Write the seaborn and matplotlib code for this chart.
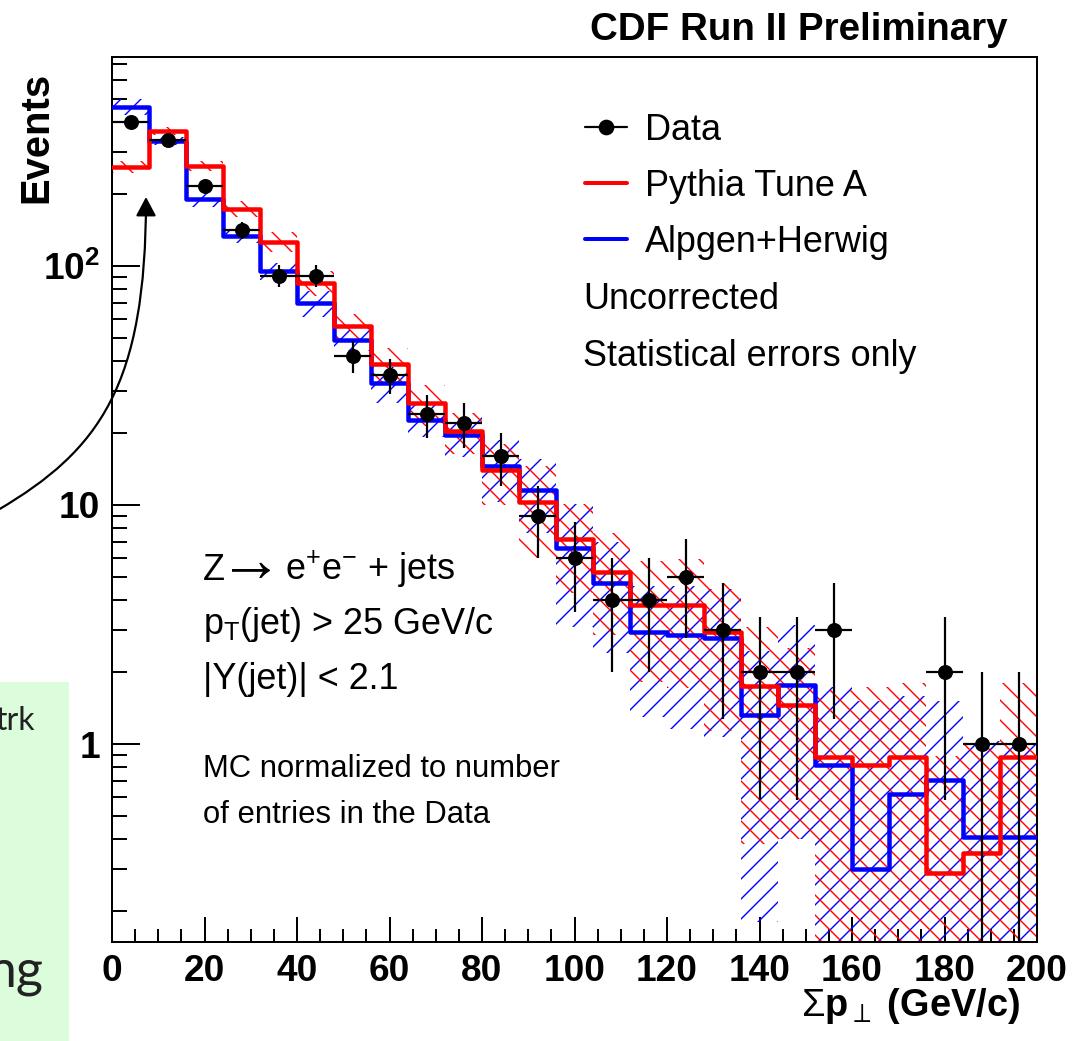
import numpy as np
import pandas as pd
import matplotlib
matplotlib.use("Agg")
import matplotlib.pyplot as plt
import seaborn as sns
from matplotlib.path import Path
from matplotlib.patches import FancyArrowPatch, Rectangle, ArrowStyle
from matplotlib.lines import Line2D
from matplotlib.ticker import FixedLocator, FixedFormatter, MultipleLocator, LogLocator, NullFormatter

# ---------------- data ----------------
bin_edges = [0, 8, 16, 24, 32, 40, 48, 56, 64, 72, 80, 88, 96, 104, 112, 120,
             128, 136, 144, 152, 160, 168, 176, 184, 192, 200]
data_counts = [400, 336, 215, 141, 91, 91, 42, 35, 24, 22, 16, 9, 6, 4, 4, 5,
               3, 2, 2, 3, 0, 0, 2, 1, 1]
pythia = [260, 367, 262, 173, 126, 85, 56, 38.9, 26.6, 20.3, 14.0, 10.3, 7.2,
          5.26, 3.82, 3.82, 2.93, 1.74, 1.46, 0.88, 0.82, 0.88, 0.29, 0.35, 0.88]
pythia_err = [15, 15, 12, 13, 12, 10, 7, 6.5, 5.2, 4.0, 4.0, 4.3, 2.9,
              2.4, 2.0, 2.1, 1.8, 1.36, 1.06, 0.80, 0.91, 0.92, 0.60, 0.65, 0.92]
alpgen = [464, 333, 190, 133.5, 95.3, 69.8, 49.0, 32.3, 22.7, 19.6, 14.5, 11.6,
          6.6, 4.70, 2.95, 2.86, 2.77, 1.32, 1.77, 0.82, 0.30, 0.615, 0.71, 0.41, 0.41]
alpgen_err = [36, 12, 13, 9, 8, 8.4, 5, 5.6, 3.5, 3.7, 4.2, 4.0, 3.5,
              2.3, 1.65, 1.7, 1.7, 1.14, 1.37, 0.91, 1.22, 0.97, 0.81, 0.62, 0.62]
y_major = [1, 10, 100]
y_major_labels = ["1", "10", "10$^{\\mathbf{2}}$"]
x_major = [0, 20, 40, 60, 80, 100, 120, 140, 160, 180, 200]
x_major_labels = ["0", "20", "40", "60", "80", "100", "120", "140", "160", "180", "200"]

# ---------------- setup ----------------
W, H, DPI = 1089, 1041, 120
def pt(px):
    return px * 72.0 / DPI
def fx(x):
    return x / W
def fy(y):
    return 1 - y / H

sns.set_style("ticks")
plt.rcParams["font.family"] = ["Liberation Sans", "DejaVu Sans"]
plt.rcParams["mathtext.fontset"] = "custom"
plt.rcParams["mathtext.rm"] = "Liberation Sans"
plt.rcParams["mathtext.it"] = "Liberation Sans:italic"
plt.rcParams["mathtext.bf"] = "Liberation Sans:bold"
plt.rcParams["hatch.linewidth"] = pt(1.4)
plt.rcParams["text.color"] = "black"
plt.rcParams["axes.labelcolor"] = "black"
plt.rcParams["xtick.color"] = "black"
plt.rcParams["ytick.color"] = "black"

edges = np.array(bin_edges, dtype=float)
centers = (edges[:-1] + edges[1:]) / 2
widths = np.diff(edges)
floor = 1e-3

fig = plt.figure(figsize=(W / DPI, H / DPI), dpi=DPI)
ax = fig.add_axes([fx(112), fy(942), fx(1037) - fx(112), fy(57) - fy(942)])

df = pd.DataFrame({"center": centers, "pythia": pythia, "alpgen": alpgen,
                   "pythia_err": pythia_err, "alpgen_err": alpgen_err,
                   "data": data_counts})

# hatched MC statistical bands
for col, ecol, color, hatch in [("alpgen", "alpgen_err", "blue", "//"),
                                ("pythia", "pythia_err", "red", "\\\\")]:
    lo = np.clip(df[col] - df[ecol], floor, None)
    hi = df[col] + df[ecol]
    ax.bar(df["center"], hi - lo, bottom=lo, width=widths, fill=False,
           hatch=hatch, edgecolor=color, linewidth=0, zorder=1)

# MC histograms
sns.histplot(data=df, x="center", weights="alpgen", bins=bin_edges, element="step",
             fill=False, color="blue", linewidth=pt(4.5), ax=ax, zorder=3)
sns.histplot(data=df, x="center", weights="pythia", bins=bin_edges, element="step",
             fill=False, color="red", linewidth=pt(4.5), ax=ax, zorder=4)

# data with statistical errors
dd = df[df["data"] > 0]
yerr_lo = np.minimum(np.sqrt(dd["data"]), dd["data"] - floor)
yerr_hi = np.sqrt(dd["data"])
ax.errorbar(dd["center"], dd["data"], xerr=widths[0] / 2, yerr=[yerr_lo, yerr_hi],
            fmt="none", ecolor="black", elinewidth=pt(2.2), capsize=0, zorder=5)
sns.scatterplot(data=dd, x="center", y="data", color="black", s=pt(15) ** 2,
                linewidth=0, ax=ax, zorder=6, legend=False)

ax.set_yscale("log")
ax.set_xlim(0, 200)
ax.set_ylim(0.1485, 748)
ax.set_xlabel("")
ax.set_ylabel("")

# ticks
ax.yaxis.set_major_locator(FixedLocator(y_major))
ax.yaxis.set_major_formatter(FixedFormatter(y_major_labels))
ax.yaxis.set_minor_locator(LogLocator(base=10, subs=np.arange(2, 10), numticks=20))
ax.yaxis.set_minor_formatter(NullFormatter())
ax.xaxis.set_major_locator(FixedLocator(x_major))
ax.xaxis.set_major_formatter(FixedFormatter(x_major_labels))
ax.xaxis.set_minor_locator(MultipleLocator(5))
ax.tick_params(axis="both", which="both", direction="in", top=False, right=False,
               width=pt(2), colors="black")
ax.tick_params(axis="x", which="major", length=pt(25), pad=pt(12))
ax.tick_params(axis="x", which="minor", length=pt(13))
ax.tick_params(axis="y", which="major", length=pt(28), pad=pt(12))
ax.tick_params(axis="y", which="minor", length=pt(15))
for lab in ax.get_xticklabels() + ax.get_yticklabels():
    lab.set_fontsize(pt(37))
    lab.set_fontweight("bold")
    lab.set_color("black")
for s in ax.spines.values():
    s.set_linewidth(pt(2))
    s.set_color("black")
    s.set_visible(True)

# legend
handles = [Line2D([], [], color="black", lw=pt(2.2), marker="o", markersize=pt(14)),
           Line2D([], [], color="red", lw=pt(4)),
           Line2D([], [], color="blue", lw=pt(4))]
leg = ax.legend(handles, ["Data", "Pythia Tune A", "Alpgen+Herwig"], loc="upper left",
                bbox_to_anchor=(fx(585), fy(113)), bbox_transform=fig.transFigure,
                frameon=False, fontsize=pt(36), handlelength=42 / 36, handletextpad=18 / 36,
                labelspacing=0.58, borderpad=0, borderaxespad=0, numpoints=1)
for t in leg.get_texts():
    t.set_color("black")
fig.text(fx(583), fy(309), "Uncorrected", fontsize=pt(36), va="baseline", ha="left")
fig.text(fx(583), fy(366), "Statistical errors only", fontsize=pt(36), va="baseline", ha="left")

# annotations
fig.text(fx(203), fy(580), "Z", fontsize=pt(36), va="baseline")
fig.text(fx(240), fy(562), "$\\rightarrow$", fontsize=pt(64), va="center", ha="center")
fig.text(fx(285), fy(580), "e$^{+}$e$^{-}$ + jets", fontsize=pt(36), va="baseline")
fig.text(fx(203), fy(634), "p$_{\\rm T}$(jet) > 25 GeV/c", fontsize=pt(36), va="baseline")
fig.text(fx(203), fy(689), "|Y(jet)| < 2.1", fontsize=pt(36), va="baseline")
fig.text(fx(203), fy(777), "MC normalized to number", fontsize=pt(31), va="baseline")
fig.text(fx(203), fy(823), "of entries in the Data", fontsize=pt(31), va="baseline")

# titles / labels
fig.text(fx(1007), fy(40), "CDF Run II Preliminary", fontsize=pt(38.5), fontweight="bold",
         ha="right", va="baseline")
fig.text(fx(1020), fy(1016), "$\\Sigma$$\\mathbf{p}_{\\perp}$ (GeV/c)", fontsize=pt(38),
         fontweight="bold", ha="right", va="baseline")
fig.text(fx(36), fy(72), "Events", fontsize=pt(40), fontweight="bold", rotation=90,
         ha="center", va="top")

# slide fragments on the left
fig.add_artist(Rectangle((0, 0), fx(69), 359 / H, transform=fig.transFigure,
                         facecolor="#DBFDDB", edgecolor="none", zorder=0))
fig.text(fx(35), fy(730), "trk", fontsize=pt(32), color="#222222", ha="right",
         va="baseline", family=["Lato", "DejaVu Sans"])
fig.text(fx(43), fy(987), "ng", fontsize=pt(52), color="#222222", ha="right",
         va="baseline", family=["Lato", "DejaVu Sans"])

verts = [(fx(-2), fy(510)), (fx(100), fy(450)), (fx(146), fy(385)), (fx(146), fy(197))]
codes = [Path.MOVETO, Path.CURVE4, Path.CURVE4, Path.CURVE4]
arrow = FancyArrowPatch(path=Path(verts, codes), transform=fig.transFigure,
                        arrowstyle=ArrowStyle("-|>", head_length=pt(16), head_width=pt(8.5)),
                        mutation_scale=1, color="black", lw=pt(2.2), zorder=10)
fig.add_artist(arrow)

fig.savefig("out.png", dpi=DPI)
